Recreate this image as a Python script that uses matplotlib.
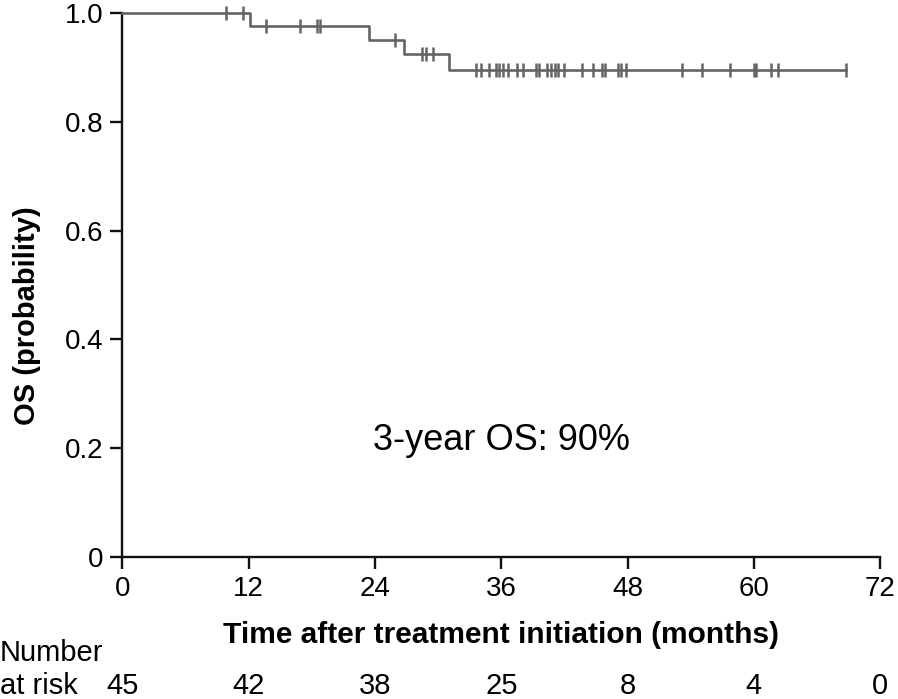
import numpy as np
import matplotlib
matplotlib.use('Agg')
import matplotlib.pyplot as plt
from matplotlib import rc

rc('font', **{'family': 'sans-serif', 'sans-serif': ['Liberation Sans', 'DejaVu Sans']})

# Kaplan-Meier steps (months, OS probability).
event_times = [12.1, 23.4, 26.8, 31.0]
surv_levels = [1.0, 0.977, 0.951, 0.925, 0.896]
last_follow_up = 68.8

# Censored observations (tick marks on the curve).
censor_times = [9.8, 11.5, 13.6, 16.9, 18.5, 18.8, 25.9, 28.5, 28.8, 29.5,
                33.6, 34.1, 34.8, 35.5, 35.8, 36.2, 36.6, 37.5, 38.1, 39.3,
                39.6, 40.3, 40.7, 41.1, 41.4, 42.0, 43.7, 44.7, 45.6, 45.9,
                47.1, 47.4, 47.9, 53.2, 55.1, 57.7, 60.0, 60.2, 61.6, 62.3,
                68.8]

xticks = [0, 12, 24, 36, 48, 60, 72]
yticks = [0, 0.2, 0.4, 0.6, 0.8, 1.0]
ytick_labels = ['0', '0.2', '0.4', '0.6', '0.8', '1.0']
at_risk = [45, 42, 38, 25, 8, 4, 0]

fig = plt.figure(figsize=(8.98, 6.99), dpi=100)
ax = fig.add_axes([0.1364, 0.2036, 0.8436, 0.7774])

curve_color = '#646464'
step_x = [0] + event_times + [last_follow_up]
step_y = surv_levels + [surv_levels[-1]]
ax.step(step_x, step_y, where='post', color=curve_color, lw=1.9,
        clip_on=False, zorder=3)

# y of each censor mark = level of the step it sits on
idx = np.searchsorted(event_times, censor_times, side='right')
censor_y = [surv_levels[i] for i in idx]
ax.plot(censor_times, censor_y, linestyle='none', marker='|', color=curve_color,
        markersize=9.5, mew=1.8, clip_on=False, zorder=4)

ax.set_xlim(0, 72)
ax.set_ylim(0, 1.0)
ax.set_xticks(xticks)
ax.set_yticks(yticks)
ax.set_yticklabels(ytick_labels)
for s in ['top', 'right']:
    ax.spines[s].set_visible(False)
for s in ['left', 'bottom']:
    ax.spines[s].set_linewidth(1.7)
    ax.spines[s].set_color('#111111')
ax.tick_params(which='both', direction='out', length=8.6, width=1.7,
               color='#111111', labelsize=20)
ax.tick_params(axis='y', pad=5)
ax.tick_params(axis='x', pad=5)

ax.set_xlabel('Time after treatment initiation (months)', fontsize=21.5,
              fontweight='bold', labelpad=14)
ax.set_ylabel('OS (probability)', fontsize=21, fontweight='bold')
ax.yaxis.set_label_coords(-0.108, 0.443)

ax.text(36, 0.213, '3-year OS: 90%', fontsize=26, ha='center', va='center')

# Number at risk table under the axis
fig.text(0.0, 0.066, 'Number', fontsize=21, ha='left', va='center')
fig.text(0.0, 0.019, 'at risk', fontsize=21, ha='left', va='center')
trans = matplotlib.transforms.blended_transform_factory(ax.transData, fig.transFigure)
for t, n in zip(xticks, at_risk):
    ax.text(t, 0.019, str(n), fontsize=21, ha='center', va='center',
            transform=trans, clip_on=False)

fig.savefig('out.png', dpi=100)
